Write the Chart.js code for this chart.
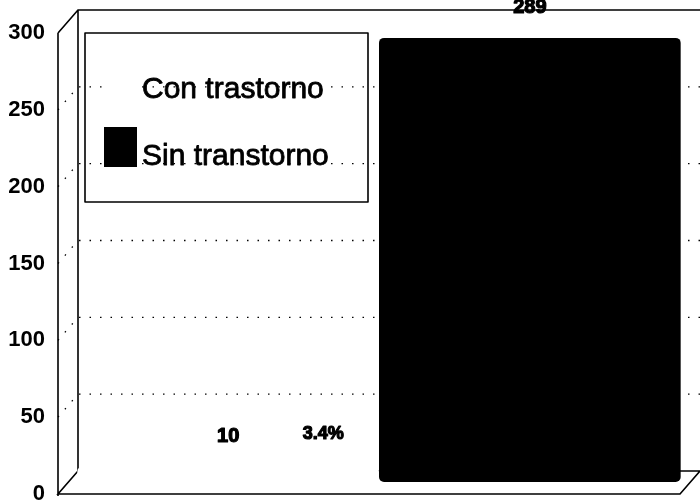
<!DOCTYPE html>
<html>
<head>
<meta charset="utf-8">
<script src="https://cdn.jsdelivr.net/npm/chart.js@4/dist/chart.umd.min.js"></script>
<style>
  body { margin: 0; background: #fff; }
</style>
</head>
<body>
<canvas id="chart" width="700" height="502"></canvas>
<script>
const categories = [""];
const seriesNames = ["Con trastorno", "Sin transtorno"];
const seriesValues = [10, 289];
const seriesColors = ["#ffffff", "#000000"];
const percentLabels = ["3.4%", ""];
const yTicks = [0, 50, 100, 150, 200, 250, 300];

const FONT = "'Liberation Sans', Arial, sans-serif";
const DEPTH_X = 20, DEPTH_Y = -23; // back wall offset
const BAR_X = 10, BAR_Y = -12;     // bars sit half way back

// heavy text, like the scanned print
function boldText(ctx, text, x, y, w) {
  ctx.lineWidth = w;
  ctx.strokeStyle = "#000";
  ctx.lineJoin = "round";
  ctx.strokeText(text, x, y);
  ctx.fillText(text, x, y);
}

const depthPlugin = {
  id: "depth",
  beforeDatasetsDraw(chart) {
    const ctx = chart.ctx;
    const a = chart.chartArea;
    const y = chart.scales.y;
    ctx.save();
    ctx.strokeStyle = "#000";

    // dotted grid on the back wall
    ctx.lineWidth = 1.3;
    ctx.setLineDash([1.5, 9]);
    yTicks.slice(1, -1).forEach(v => {
      const py = y.getPixelForValue(v);
      ctx.beginPath();
      ctx.moveTo(a.left, py);
      ctx.lineTo(a.left + DEPTH_X, py + DEPTH_Y);
      ctx.lineTo(a.right + DEPTH_X, py + DEPTH_Y);
      ctx.stroke();
    });

    // box frame
    ctx.setLineDash([]);
    ctx.lineWidth = 1.6;
    const top = y.getPixelForValue(yTicks[yTicks.length - 1]);
    const bot = y.getPixelForValue(yTicks[0]);
    ctx.beginPath();
    ctx.moveTo(a.left, top); ctx.lineTo(a.left, bot + 2);
    ctx.moveTo(a.left, top); ctx.lineTo(a.left + DEPTH_X, top + DEPTH_Y);
    ctx.lineTo(a.right + DEPTH_X, top + DEPTH_Y);
    ctx.moveTo(a.left + DEPTH_X, top + DEPTH_Y); ctx.lineTo(a.left + DEPTH_X, bot + DEPTH_Y);
    ctx.lineTo(a.right + DEPTH_X, bot + DEPTH_Y);
    ctx.lineTo(a.right, bot);
    ctx.lineTo(a.left, bot);
    ctx.lineTo(a.left + DEPTH_X, bot + DEPTH_Y);
    ctx.stroke();
    ctx.restore();

    ctx.save();
    ctx.translate(BAR_X, BAR_Y);
  },
  afterDatasetsDraw(chart) {
    const ctx = chart.ctx;
    ctx.restore();
    const a = chart.chartArea;

    // value labels
    ctx.save();
    ctx.fillStyle = "#000";
    ctx.textAlign = "center";
    ctx.textBaseline = "middle";
    chart.data.datasets.forEach((ds, i) => {
      const bar = chart.getDatasetMeta(i).data[0];
      const lx = bar.x + BAR_X;
      const ly = bar.y + BAR_Y - 30;
      ctx.font = "bold 20px " + FONT;
      boldText(ctx, String(ds.data[0]), lx, ly, 1.2);
      if (percentLabels[i]) {
        ctx.font = "bold 18px " + FONT;
        boldText(ctx, percentLabels[i], lx + 95, ly - 3, 1.2);
      }
    });

    // legend box inside the plot
    const bx = a.left + 27, by = a.top, bw = 283, bh = 169;
    ctx.strokeStyle = "#000";
    ctx.lineWidth = 1.6;
    ctx.strokeRect(bx, by, bw, bh);
    ctx.textAlign = "left";
    ctx.font = "30px " + FONT;
    chart.data.datasets.forEach((ds, i) => {
      const ry = by + 57 + i * 67;
      ctx.fillStyle = ds.backgroundColor;
      ctx.fillRect(bx + 19, ry - 30, 33, 40);
      ctx.fillStyle = "#000";
      boldText(ctx, ds.label, bx + 57, ry, 0.8);
    });
    ctx.restore();
  }
};

new Chart(document.getElementById("chart"), {
  type: "bar",
  data: {
    labels: categories,
    datasets: seriesNames.map((name, i) => ({
      label: name,
      data: [seriesValues[i]],
      backgroundColor: seriesColors[i],
      borderWidth: 0,
      borderRadius: 5,
      borderSkipped: false,
      categoryPercentage: 0.97,
      barPercentage: 1
    }))
  },
  options: {
    responsive: false,
    animation: false,
    layout: { padding: { top: 33, bottom: 8, right: 20, left: 0 } },
    plugins: { legend: { display: false }, tooltip: { enabled: false } },
    scales: {
      x: { display: false },
      y: {
        min: yTicks[0],
        max: yTicks[yTicks.length - 1],
        afterFit: s => { s.width = 58; s.paddingTop = 0; s.paddingBottom = 0; },
        afterBuildTicks: s => { s.ticks = yTicks.map(v => ({ value: v })); },
        grid: { display: false, drawTicks: false },
        border: { display: false },
        ticks: {
          padding: 13,
          color: "#000",
          font: { family: FONT, size: 22, weight: "bold" }
        }
      }
    }
  },
  plugins: [depthPlugin]
});
</script>
</body>
</html>
